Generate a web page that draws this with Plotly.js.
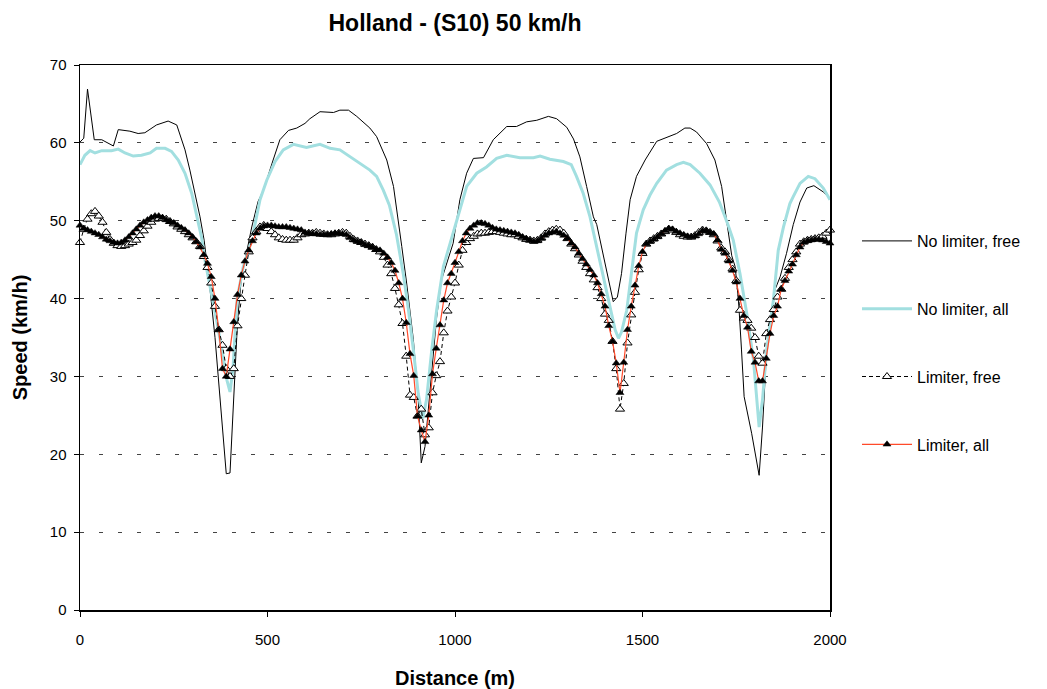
<!DOCTYPE html>
<html>
<head>
<meta charset="utf-8">
<script src="https://cdn.plot.ly/plotly-3.0.1.min.js"></script>
<style>html,body{margin:0;padding:0;background:#fff;}#chart{width:1047px;height:689px;}</style>
</head>
<body>
<div id="chart"></div>
<script>
// ---- Data ----
const chartTitle = "Holland - (S10) 50 km/h";
const xTitle = "Distance (m)";
const yTitle = "Speed (km/h)";
const seriesNames = ["No limiter, free", "No limiter, all", "Limiter, free", "Limiter, all"];
const xTickVals = [0, 500, 1000, 1500, 2000];
const yTickVals = [0, 10, 20, 30, 40, 50, 60, 70];

// No limiter, free
const noLimFreeX = [0,10,20,38,58,75,89,102,133,155,173,204,235,258,268,280,293,307,320,331,345,360,372,382,390,400,410,420,430,440,458,475,489,515,533,556,578,600,613,640,676,693,716,738,773,791,818,836,849,858,871,889,902,907,910,920,929,938,951,964,978,995,1013,1031,1049,1076,1102,1138,1164,1191,1218,1249,1271,1298,1316,1333,1351,1369,1378,1396,1413,1422,1433,1444,1456,1467,1484,1507,1538,1564,1591,1613,1627,1644,1671,1693,1711,1724,1738,1747,1756,1764,1771,1791,1811,1820,1831,1844,1853,1867,1884,1902,1920,1938,1957,1982,2000];
const noLimFreeY = [60.1,60.6,66.9,60.4,60.4,60.0,59.6,61.7,61.5,61.2,61.3,62.3,62.8,62.3,60.8,59.1,56.5,53.6,50.5,47.5,42.0,35.0,28.0,22.0,17.5,17.6,27.0,37.0,42.5,45.0,49.2,52.5,53.9,57.8,60.4,61.6,61.9,62.5,63.1,64.0,63.9,64.2,64.2,63.4,61.9,60.8,57.8,54.4,50.1,46.7,42.0,34.7,27.0,22.7,18.9,21.0,26.1,31.2,37.6,42.4,44.6,47.1,52.7,56.1,58.0,58.1,60.4,62.1,62.1,62.7,62.9,63.4,63.1,62.0,60.5,58.2,54.4,50.5,49.5,45.3,41.5,39.6,40.2,43.2,48.4,52.7,55.7,57.8,60.2,60.7,61.2,61.9,61.9,61.4,59.9,57.8,54.4,50.1,45.5,44.1,39.8,33.4,27.4,22.7,17.3,23.5,33.4,38.5,41.1,42.8,45.8,49.5,52.4,54.2,54.5,53.7,52.9];

// No limiter, all
const noLimAllX = [0,13,27,40,58,84,102,120,142,164,187,204,227,244,262,280,298,311,324,333,350,365,380,392,400,408,419,435,445,458,480,498,520,542,569,604,640,667,693,720,747,773,791,809,825,844,862,876,889,902,914,924,938,951,969,995,1013,1031,1058,1084,1111,1138,1173,1209,1227,1253,1289,1310,1324,1342,1360,1378,1396,1413,1427,1436,1444,1458,1471,1484,1502,1520,1538,1564,1591,1609,1627,1653,1680,1705,1727,1742,1760,1778,1796,1806,1811,1820,1831,1849,1862,1876,1893,1902,1920,1942,1960,1982,2000];
const noLimAllY = [57.2,58.4,59.0,58.7,59.0,59.0,59.2,58.7,58.3,58.4,58.7,59.3,59.3,58.9,57.8,56.1,53.5,50.9,47.9,45.0,41.0,37.0,33.0,29.5,28.0,31.0,40.0,44.0,45.5,47.5,52.7,55.2,57.6,59.1,59.8,59.4,59.8,59.3,59.1,58.2,57.4,56.5,55.7,53.9,52.0,48.2,43.2,38.5,33.4,27.8,24.6,27.0,33.4,38.5,44.1,48.4,51.5,54.4,56.1,56.9,58.0,58.4,58.1,58.1,58.3,57.9,57.6,57.2,55.7,53.5,50.5,46.6,42.8,39.0,36.0,34.9,35.7,38.5,43.2,48.4,51.4,53.3,54.8,56.5,57.2,57.5,57.2,56.1,54.6,52.4,49.6,47.5,43.2,38.1,32.1,27.0,23.5,27.0,33.4,39.8,46.2,49.2,52.2,53.1,54.8,55.7,55.4,54.2,52.7];

// Limiter series: one value every 10 m
const limiterX = [0,10,20,30,40,50,60,70,80,90,100,110,120,130,140,150,160,170,180,190,200,210,220,230,240,250,260,270,280,290,300,310,320,330,340,350,360,370,380,390,400,410,420,430,440,450,460,470,480,490,500,510,520,530,540,550,560,570,580,590,600,610,620,630,640,650,660,670,680,690,700,710,720,730,740,750,760,770,780,790,800,810,820,830,840,850,860,870,880,890,900,910,920,930,940,950,960,970,980,990,1000,1010,1020,1030,1040,1050,1060,1070,1080,1090,1100,1110,1120,1130,1140,1150,1160,1170,1180,1190,1200,1210,1220,1230,1240,1250,1260,1270,1280,1290,1300,1310,1320,1330,1340,1350,1360,1370,1380,1390,1400,1410,1420,1430,1440,1450,1460,1470,1480,1490,1500,1510,1520,1530,1540,1550,1560,1570,1580,1590,1600,1610,1620,1630,1640,1650,1660,1670,1680,1690,1700,1710,1720,1730,1740,1750,1760,1770,1780,1790,1800,1810,1820,1830,1840,1850,1860,1870,1880,1890,1900,1910,1920,1930,1940,1950,1960,1970,1980,1990,2000];

const limFreeY = [47.2,48.9,50.2,50.9,51.2,50.6,49.8,48.5,47.6,47.1,46.8,46.7,46.8,47.0,47.2,47.5,48.1,48.7,49.3,49.8,50.2,50.3,50.3,50.2,49.9,49.6,49.2,48.9,48.6,48.2,47.8,47.3,46.7,45.4,44.0,42.0,39.0,36.0,34.0,31.0,30.0,31.0,36.5,40.0,43.0,46.0,47.8,48.6,49.2,49.4,49.0,48.6,48.2,47.8,47.6,47.5,47.5,47.5,47.8,48.2,48.3,48.4,48.4,48.5,48.4,48.3,48.2,48.2,48.3,48.4,48.5,48.4,48.0,47.6,47.4,47.2,47.0,46.8,46.6,46.3,46.0,45.3,44.3,43.2,41.3,39.2,36.8,32.6,27.6,27.3,24.9,25.8,22.5,23.4,27.9,30.1,31.9,35.6,38.4,40.2,42.0,44.3,46.2,47.2,47.7,48.0,48.3,48.4,48.4,48.5,48.6,48.6,48.5,48.4,48.3,48.2,48.2,48.0,47.8,47.6,47.5,47.4,47.5,47.8,48.3,48.6,48.8,48.9,48.8,48.4,47.7,47.0,46.4,45.6,44.8,44.0,43.2,42.4,41.4,40.0,38.0,37.2,34.5,31.0,25.8,29.1,34.3,37.9,40.8,43.7,45.8,47.0,47.4,47.7,48.0,48.3,48.6,48.9,48.8,48.5,48.2,48.0,47.9,47.9,48.1,48.5,48.8,48.7,48.5,48.2,47.4,46.5,46.0,45.0,43.8,42.3,38.5,37.5,37.2,36.2,35.0,32.6,31.7,35.5,37.3,38.6,40.2,41.2,42.6,44.0,45.0,46.0,47.0,47.3,47.5,47.6,47.7,47.8,48.0,48.4,48.8];

const limAllY = [49.4,49.0,48.8,48.6,48.4,48.2,47.9,47.6,47.4,47.2,47.1,47.2,47.5,47.9,48.4,48.9,49.4,49.8,50.1,50.4,50.6,50.6,50.4,50.1,49.9,49.7,49.4,49.1,48.8,48.4,47.9,47.3,46.6,45.6,44.5,42.8,40.0,36.0,31.0,30.0,33.5,37.0,40.5,43.0,44.8,46.2,47.4,48.4,49.0,49.3,49.4,49.4,49.3,49.2,49.2,49.2,49.1,49.0,48.9,48.8,48.5,48.4,48.3,48.3,48.2,48.2,48.2,48.3,48.4,48.4,48.3,48.2,47.8,47.5,47.3,47.2,46.9,46.8,46.6,46.3,46.2,45.8,45.3,44.6,43.6,42.0,40.0,36.9,32.9,30.1,24.9,23.1,21.6,25.0,30.3,33.6,36.6,39.8,42.0,43.2,44.6,46.0,47.4,48.4,49.0,49.4,49.7,49.7,49.6,49.4,49.1,48.9,48.8,48.7,48.6,48.5,48.4,48.2,47.9,47.7,47.5,47.3,47.4,47.7,48.1,48.4,48.5,48.6,48.4,48.1,47.7,47.1,46.6,45.8,45.1,44.4,43.7,43.0,42.0,40.6,39.0,36.5,34.5,31.7,27.9,31.8,36.0,39.0,41.7,44.2,46.0,47.0,47.3,47.6,47.9,48.3,48.7,49.0,48.9,48.6,48.4,48.2,48.0,47.9,48.0,48.3,48.7,48.7,48.5,48.3,47.5,46.3,45.8,44.8,43.6,42.1,40.0,37.8,36.3,33.2,31.8,29.4,29.4,32.3,35.5,37.8,39.0,41.2,42.3,43.5,44.4,45.6,46.6,47.2,47.4,47.5,47.6,47.6,47.5,47.3,47.1];

// ---- Traces ----
const traces = [
  {x: noLimFreeX, y: noLimFreeY, name: seriesNames[0], legendgroup: "g1", type: "scatter", mode: "lines",
   line: {color: "#000000", width: 1}},
  {x: noLimAllX, y: noLimAllY, name: seriesNames[1], legendgroup: "g2", type: "scatter", mode: "lines",
   line: {color: "#A2DFE0", width: 3}},
  {x: limiterX, y: limFreeY, name: seriesNames[2], legendgroup: "g3", type: "scatter", mode: "lines+markers",
   cliponaxis: false,
   line: {color: "#000000", width: 1, dash: "4px,3px"},
   marker: {symbol: "triangle-up", size: 8, color: "#ffffff", line: {color: "#000000", width: 1}}},
  {x: limiterX, y: limAllY, name: seriesNames[3], legendgroup: "g4", type: "scatter", mode: "lines+markers",
   cliponaxis: false,
   line: {color: "#FF4A2A", width: 1.2},
   marker: {symbol: "triangle-up", size: 7, color: "#000000", line: {color: "#000000", width: 0.5}}}
];

const fontFam = "Liberation Sans, Arial, sans-serif";

const layout = {
  width: 1047, height: 689,
  margin: {l: 80, r: 217, t: 65, b: 79},
  paper_bgcolor: "#ffffff", plot_bgcolor: "#ffffff",
  font: {family: fontFam, size: 15, color: "#000000"},
  title: {text: "<b>" + chartTitle + "</b>", x: 0.5, xref: "paper", xanchor: "center",
          y: 1 - 23/689, yref: "container", yanchor: "middle",
          font: {family: fontFam, size: 23, color: "#000000"}},
  xaxis: {
    range: [0, 2000], tickvals: xTickVals, ticktext: xTickVals.map(String),
    showgrid: false, zeroline: false, showline: true, linecolor: "#000000", linewidth: 1.5, mirror: true,
    ticks: "outside", ticklen: 5, tickcolor: "#000000", tickwidth: 1, ticklabelstandoff: 10,
    tickfont: {family: fontFam, size: 15, color: "#000000"},
    title: {text: "<b>" + xTitle + "</b>", font: {family: fontFam, size: 20, color: "#000000"}, standoff: 24}
  },
  yaxis: {
    range: [0, 70], tickvals: yTickVals, ticktext: yTickVals.map(String),
    showgrid: true, gridcolor: "#444444", gridwidth: 1, griddash: "4px,15px",
    zeroline: false, showline: true, linecolor: "#000000", linewidth: 1.5, mirror: true,
    ticks: "outside", ticklen: 5, tickcolor: "#000000", tickwidth: 1, ticklabelstandoff: 4,
    tickfont: {family: fontFam, size: 15, color: "#000000"},
    title: {text: "<b>" + yTitle + "</b>", font: {family: fontFam, size: 20, color: "#000000"}, standoff: 17}
  },
  showlegend: true,
  legend: {
    x: (857 - 80) / 750, xanchor: "left", y: (610 - 224) / 545, yanchor: "top",
    font: {family: fontFam, size: 16, color: "#000000"},
    bgcolor: "rgba(0,0,0,0)", borderwidth: 0,
    tracegroupgap: 44, itemwidth: 50, traceorder: "grouped"
  }
};

Plotly.newPlot("chart", traces, layout, {displayModeBar: false, staticPlot: true});
</script>
</body>
</html>
